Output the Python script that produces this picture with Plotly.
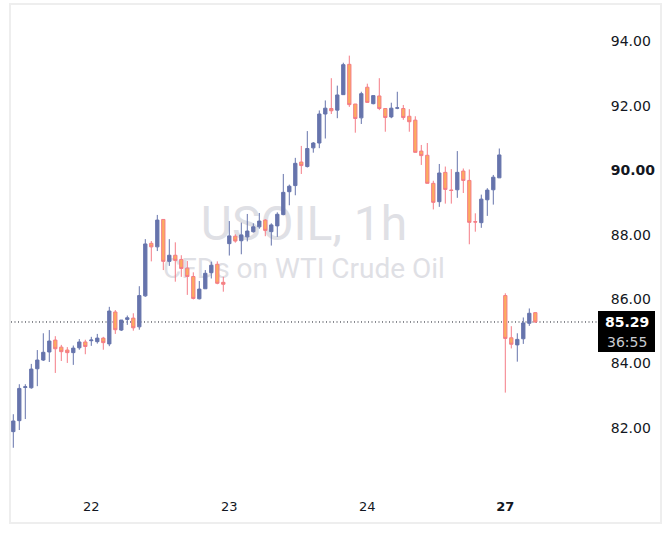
import plotly.graph_objects as go

# ---------------- data (USOIL, 1h candles) ----------------
opens = [81.89, 82.23, 83.26, 83.25, 83.84, 84.11, 84.36, 84.73, 84.51, 84.42,
         84.34, 84.49, 84.67, 84.71, 84.68, 84.79, 84.61, 85.60, 85.04, 85.37,
         85.41, 85.14, 86.10, 87.73, 87.62, 88.47, 87.17, 87.36, 87.23, 86.96,
         86.70, 86.01, 86.32, 86.82, 87.08, 86.52, 87.72, 87.95, 87.81, 87.93,
         88.09, 88.24, 88.45, 88.09, 88.27, 88.62, 89.33, 89.52, 90.25, 90.11,
         90.69, 90.84, 91.74, 91.91, 91.86, 92.34, 93.28, 92.05, 91.62, 92.57,
         92.06, 92.30, 91.91, 91.65, 91.92, 91.91, 91.67, 91.55, 90.59, 90.46,
         89.59, 89.02, 89.93, 89.38, 89.39, 89.97, 89.68, 88.40, 88.37, 89.08,
         89.39, 89.76, 86.11, 84.80, 84.58, 84.77, 85.25, 85.58]
highs = [82.43, 83.36, 83.36, 83.99, 84.42, 84.94, 85.04, 84.85, 84.58, 84.51,
         84.56, 84.76, 84.74, 84.83, 84.92, 84.83, 85.76, 85.66, 85.35, 85.49,
         85.56, 86.40, 87.86, 87.80, 88.61, 88.47, 87.86, 87.76, 87.36, 87.18,
         86.83, 86.56, 86.90, 87.16, 87.17, 86.69, 88.42, 88.01, 88.37, 88.64,
         88.35, 88.67, 88.48, 88.35, 88.69, 89.88, 89.55, 90.38, 90.75, 91.21,
         90.87, 91.85, 92.16, 92.85, 92.62, 93.33, 93.55, 92.05, 92.43, 92.68,
         92.31, 92.85, 91.91, 92.09, 92.43, 92.02, 91.89, 91.67, 90.78, 90.84,
         89.67, 90.19, 90.11, 90.03, 90.59, 90.05, 90.02, 88.66, 89.24, 89.44,
         89.85, 90.67, 86.18, 85.16, 84.94, 85.43, 85.71, 85.59]
lows = [81.39, 81.94, 82.28, 83.22, 83.30, 84.08, 84.05, 83.71, 84.08, 84.02,
        83.96, 84.43, 84.29, 84.55, 84.62, 84.43, 84.54, 84.92, 85.01, 85.20,
        85.02, 85.05, 86.07, 87.17, 87.49, 86.90, 87.03, 86.54, 86.69, 86.13,
        85.99, 85.99, 86.32, 86.64, 86.46, 86.23, 87.35, 87.75, 87.39, 87.79,
        88.06, 88.18, 87.95, 87.66, 87.93, 88.60, 88.91, 89.22, 89.88, 90.08,
        90.54, 90.68, 90.98, 91.74, 91.61, 92.34, 91.96, 91.16, 91.43, 92.10,
        92.04, 91.86, 91.19, 91.61, 91.89, 91.56, 91.19, 90.55, 90.16, 89.59,
        88.78, 88.86, 88.96, 88.96, 89.14, 89.29, 87.70, 88.09, 88.21, 88.58,
        88.93, 89.76, 83.10, 84.47, 84.06, 84.61, 85.17, 85.26]
closes = [82.22, 83.23, 83.28, 83.83, 84.11, 84.35, 84.70, 84.46, 84.37, 84.34,
          84.48, 84.67, 84.53, 84.73, 84.79, 84.65, 85.63, 85.05, 85.35, 85.42,
          85.11, 86.11, 87.71, 87.62, 88.45, 87.17, 87.36, 87.20, 86.95, 86.70,
          86.02, 86.31, 86.80, 87.05, 86.49, 86.46, 87.96, 87.80, 87.99, 88.11,
          88.24, 88.42, 88.13, 88.30, 88.63, 89.31, 89.50, 90.21, 90.14, 90.67,
          90.84, 91.74, 91.92, 91.84, 92.33, 93.27, 92.03, 91.60, 92.37, 92.10,
          92.31, 91.91, 91.63, 91.92, 91.93, 91.63, 91.50, 90.55, 90.45, 89.59,
          89.00, 89.91, 89.40, 89.37, 89.93, 89.68, 88.38, 88.39, 89.10, 89.38,
          89.78, 90.47, 84.78, 84.60, 84.75, 85.26, 85.56, 85.29]
bar_index = list(range(len(opens)))

day_labels = ["22", "23", "24", "<b>27</b>"]
day_first_bar = [13, 36, 59, 82]

price_ticks = [82, 84, 86, 88, 90, 92, 94]
price_tick_text = ["82.00", "84.00", "86.00", "88.00", "<b>90.00</b>", "92.00", "94.00"]

symbol_title = "USOIL, 1h"
symbol_desc = "CFDs on WTI Crude Oil"
countdown = "36:55"

# ---------------- layout geometry ----------------
W, H = 670, 541
L, R, T, B = 11, 73, 5, 51
plot_w = W - L - R
plot_h = H - T - B
bar_px = 6.0
first_bar_px = 13.3
x_lo = -(first_bar_px - L) / bar_px
x_hi = x_lo + plot_w / bar_px
y_lo, y_hi = 80.08, 95.12
price_per_px = (y_hi - y_lo) / plot_h


def px_to_paper_x(px):
    return (px - L) / plot_w


def px_to_paper_y(py):
    return (T + plot_h - py) / plot_h


UP = "#6674AC"
DOWN_FILL = "#FCAC5E"
DOWN_LINE = "#F47C86"
TXT = "#131722"

fig = go.Figure()

# watermark (drawn on the base subplot, underneath the candles)
fig.add_trace(go.Scatter(
    x=[0.5, 0.5], y=[px_to_paper_y(228), px_to_paper_y(271)],
    mode="text", text=[symbol_title, symbol_desc],
    textfont=dict(family="Roboto", size=[48, 28], color="#DFE0E5"),
    textposition="middle center",
    xaxis="x", yaxis="y", hoverinfo="skip", showlegend=False,
))

fig.add_trace(go.Candlestick(
    x=bar_index, open=opens, high=highs, low=lows, close=closes,
    xaxis="x2", yaxis="y2",
    increasing=dict(line=dict(color=UP, width=1), fillcolor=UP),
    decreasing=dict(line=dict(color=DOWN_LINE, width=1), fillcolor=DOWN_FILL),
    whiskerwidth=0, showlegend=False, hoverinfo="skip",
))

last = closes[-1]

shapes = [
    # outer frame
    dict(type="rect", xref="paper", yref="paper",
         x0=px_to_paper_x(10), x1=px_to_paper_x(661),
         y0=px_to_paper_y(523), y1=px_to_paper_y(4),
         line=dict(color="#EEEEEE", width=2), layer="below"),
    # last price dotted line
    dict(type="line", xref="paper", yref="y2", x0=0, x1=1, y0=last, y1=last,
         line=dict(color=TXT, width=1, dash="1px,2.5px"), layer="below"),
    # price label box
    dict(type="rect", xref="paper", yref="y2",
         x0=px_to_paper_x(598), x1=px_to_paper_x(655),
         y0=last - 30 * price_per_px, y1=last + 11 * price_per_px,
         line=dict(width=0), fillcolor="#000000", layer="above"),
]

annotations = [
    dict(xref="paper", yref="y2", x=px_to_paper_x(627), y=last,
         text="<b>%.2f</b>" % last, showarrow=False,
         font=dict(family="DejaVu Sans", size=14, color="#FFFFFF"),
         xanchor="center", yanchor="middle"),
    dict(xref="paper", yref="y2", x=px_to_paper_x(627), y=last - 20 * price_per_px,
         text=countdown, showarrow=False,
         font=dict(family="DejaVu Sans", size=14, color="#C9CBD1"),
         xanchor="center", yanchor="middle"),
]

fig.update_layout(
    width=W, height=H,
    margin=dict(l=L, r=R, t=T, b=B, autoexpand=False),
    paper_bgcolor="white", plot_bgcolor="white",
    showlegend=False,
    boxgap=0.22,
    xaxis=dict(range=[0, 1], visible=False, fixedrange=True,
               rangeslider=dict(visible=False)),
    yaxis=dict(range=[0, 1], visible=False, fixedrange=True),
    xaxis2=dict(overlaying="x", anchor="y2", side="bottom",
                range=[x_lo, x_hi], tickmode="array",
                tickvals=day_first_bar, ticktext=day_labels,
                showgrid=False, zeroline=False, showline=False,
                ticks="outside", ticklen=4, tickcolor="rgba(0,0,0,0)",
                tickfont=dict(family="DejaVu Sans", size=13, color=TXT),
                rangeslider=dict(visible=False), fixedrange=True),
    yaxis2=dict(overlaying="y", anchor="x2", side="right",
                range=[y_lo, y_hi], tickmode="array",
                tickvals=price_ticks, ticktext=price_tick_text,
                showgrid=False, zeroline=False, showline=False,
                ticks="outside", ticklen=10, tickcolor="rgba(0,0,0,0)",
                tickfont=dict(family="DejaVu Sans", size=14, color=TXT),
                fixedrange=True),
    shapes=shapes,
    annotations=annotations,
)

fig.write_html("out.html")
